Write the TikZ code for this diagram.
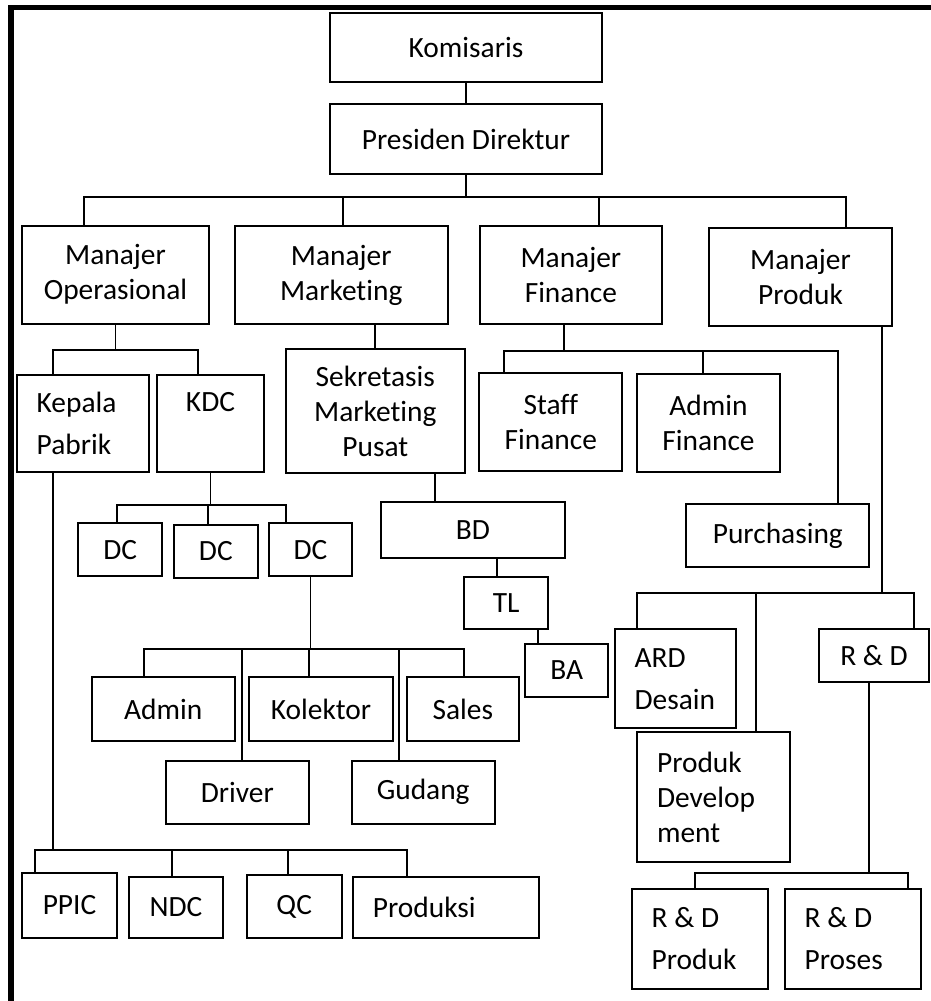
\documentclass[tikz,border=0pt]{standalone}
\usepackage{fontspec}
\setmainfont{Carlito}[Ligatures=NoCommon]
\usetikzlibrary{positioning,calc}
\tikzset{
	box/.style={draw, rectangle, line width=1pt, inner sep=0pt, align=center, font=\fontsize{14.7}{17.5}\selectfont},
	lbox/.style={box, align=flush left, inner xsep=10pt},
	wide/.style={font=\fontsize{14.7}{21}\selectfont},
	link/.style={color=black, line width=0.9pt},
	frame/.style={fill=black}
}
\begin{document}
\begin{tikzpicture}[x=0.5pt,y=-0.5pt]
		\useasboundingbox (0,0) rectangle (931,1001);
		% frame on top and left
		\fill[frame] (8.3,5) rectangle (931,10);
		\fill[frame] (8.3,5) rectangle (14.3,1001);
		
		% top of the chart
		\node[box,minimum width=136pt,minimum height=34.8pt] (kom) at (466,47.5) {Komisaris};
		\node[box,minimum width=136pt,minimum height=34.85pt] (pres) at (466,138.9) {Presiden Direktur};
		
		% managers
		\node[box,minimum width=93.5pt,minimum height=49pt] (mops) at (115.5,274.7) {Manajer\\Operasional};
		\node[box,minimum width=106.5pt,minimum height=49pt] (mmkt) at (341.2,275) {Manajer\\Marketing};
		\node[box,minimum width=91.1pt,minimum height=49pt] (mfin) at (570.9,275) {Manajer\\Finance};
		\node[box,minimum width=91.5pt,minimum height=49pt] (mprod) at (800.5,276.7) {Manajer\\Produk};
		
		% operasional
		\node[lbox,wide,text width=46.3pt,minimum height=48.8pt] (kpab) at (83,423.5) {Kepala\\Pabrik};
		\node[box,wide,minimum width=53.2pt,minimum height=48.8pt] (kdc) at (210.5,423.5) {KDC\\\phantom{KDC}};
		\node[box,minimum width=41.85pt,minimum height=26.35pt] (dc1) at (120.2,549.7) {DC};
		\node[box,minimum width=41.85pt,minimum height=26.2pt] (dc2) at (215.8,551.5) {DC};
		\node[box,minimum width=41.8pt,minimum height=26.35pt] (dc3) at (310.5,549.7) {DC};
		\node[box,minimum width=71.5pt,minimum height=31.7pt] (admin) at (163.2,709) {Admin};
		\node[box,minimum width=71.7pt,minimum height=31.7pt] (kol) at (321,709) {Kolektor};
		\node[box,minimum width=56.15pt,minimum height=31.7pt] (sales) at (462.8,709) {Sales};
		\node[box,minimum width=71.65pt,minimum height=31.65pt] (driver) at (237.3,792.3) {Driver};
		\node[box,minimum width=71.5pt,minimum height=31.65pt] (gud) at (423.2,792.3) {Gudang};
		\node[box,minimum width=47.5pt,minimum height=32.65pt] (ppic) at (69.5,905.3) {PPIC};
		\node[box,minimum width=47.3pt,minimum height=30.5pt] (ndc) at (176,907.5) {NDC};
		\node[box,minimum width=47.5pt,minimum height=31.5pt] (qc) at (294.2,906.5) {QC};
		\node[lbox,text width=72.85pt,minimum height=30.5pt] (prod) at (445.8,907.5) {Produksi};
		
		% marketing
		\node[box,minimum width=89.35pt,minimum height=61.7pt] (smp) at (375.3,411) {Sekretasis\\Marketing\\Pusat};
		\node[box,minimum width=91.7pt,minimum height=28pt] (bd) at (473,529.7) {BD};
		\node[box,minimum width=42.15pt,minimum height=26.15pt] (tl) at (506.2,603.2) {TL};
		\node[box,minimum width=41.65pt,minimum height=26.2pt] (ba) at (566.7,670.5) {BA};
		
		% finance
		\node[box,minimum width=71.5pt,minimum height=49pt] (sfin) at (550.8,421.7) {Staff\\Finance};
		\node[box,minimum width=71.5pt,minimum height=49pt] (afin) at (708.5,423.3) {Admin\\Finance};
		\node[box,minimum width=91.5pt,minimum height=31.2pt] (purch) at (777.8,535.5) {Purchasing};
		
		% produk
		\node[lbox,wide,text width=40.65pt,minimum height=49.35pt] (ard) at (675.3,678.7) {ARD\\Desain};
		\node[box,minimum width=54.7pt,minimum height=26.5pt] (rnd) at (874,655.8) {R \& D};
		\node[lbox,text width=56.65pt,minimum height=64.7pt] (pdev) at (713.7,797) {Produk\\Develop\\ment};
		\node[lbox,wide,text width=48pt,minimum height=50.15pt] (rdprod) at (699.7,938.8) {R \& D\\Produk};
		\node[lbox,wide,text width=48.3pt,minimum height=50.15pt] (rdpros) at (853,938.8) {R \& D\\Proses};
		
		% connectors
		\draw[link] (kom) -- (pres);
		\draw[link] (pres.south) -- ++(0,22.3) -| ([xshift=-15.75pt]mops.north);
		\draw[link] (pres.south) -- ++(0,22.3) -| ([xshift=0.9pt]mmkt.north);
		\draw[link] (pres.south) -- ++(0,22.3) -| ([xshift=13.85pt]mfin.north);
		\draw[link] (pres.south) -- ++(0,22.3) -| ([xshift=22.75pt]mprod.north);
		
		\draw[link] (mops.south) -- ++(0,25.6) -| ([xshift=-15.15pt]kpab.north);
		\draw[link] (mops.south) -- ++(0,25.6) -| ([xshift=-6.1pt]kdc.north);
		\draw[link] (kdc.south) -- ++(0,31.7) -| ([xshift=-1.75pt]dc1.north);
		\draw[link] (kdc.south) -- ++(0,31.7) -| ([xshift=-3.75pt]dc2.north);
		\draw[link] (kdc.south) -- ++(0,31.7) -| ([xshift=-12.4pt]dc3.north);
		\draw[link] (dc3.south) -- ++(0,71.7) -| ([xshift=-9.6pt]admin.north);
		\draw[link] (dc3.south) -- ++(0,71.7) -| ([xshift=2.35pt]driver.north);
		\draw[link] (dc3.south) -- ++(0,71.7) -| ([xshift=-6.15pt]kol.north);
		\draw[link] (dc3.south) -- ++(0,71.7) -| ([xshift=-11.95pt]gud.north);
		\draw[link] (dc3.south) -- ++(0,71.7) -| ([xshift=0.75pt]sales.north);
		\draw[link] ([xshift=-15pt]kpab.south) -- ++(0,377) -| ([xshift=-17.4pt]ppic.north);
		\draw[link] ([xshift=-15pt]kpab.south) -- ++(0,377) -| ([xshift=-2.15pt]ndc.north);
		\draw[link] ([xshift=-15pt]kpab.south) -- ++(0,377) -| ([xshift=-3.25pt]qc.north);
		\draw[link] ([xshift=-15pt]kpab.south) -- ++(0,377) -| ([xshift=-19.4pt]prod.north);
		
		\draw[link] (smp.north) -- (smp.north |- mmkt.south);
		\draw[link] ([xshift=30pt]smp.south) -- ([xshift=-18.85pt]bd.north);
		\draw[link] ([xshift=12pt]bd.south) -- ([xshift=-4.6pt]tl.north);
		\draw[link] ([xshift=16.05pt]tl.south) -- ([xshift=-14.2pt]ba.north);
		
		\draw[link] ([xshift=-3.45pt]mfin.south) -- ++(0,25.6) -| ([xshift=-23.25pt]sfin.north);
		\draw[link] ([xshift=-3.45pt]mfin.south) -- ++(0,25.6) -| ([xshift=-2.9pt]afin.north);
		\draw[link] ([xshift=-3.45pt]mfin.south) -- ++(0,25.6) -| ([xshift=29.95pt]purch.north);
		
		\draw[link] ([xshift=40.9pt]mprod.south) -- ++(0,266) -| ([xshift=-19pt]ard.north);
		\draw[link] ([xshift=40.9pt]mprod.south) -- ++(0,266) -| ([xshift=21pt]pdev.north);
		\draw[link] ([xshift=40.9pt]mprod.south) -- ++(0,266) -| ([xshift=19.85pt]rnd.north);
		\draw[link] ([xshift=-2.5pt]rnd.south) -- ++(0,190) -| ([xshift=-2.35pt]rdprod.north);
		\draw[link] ([xshift=-2.5pt]rnd.south) -- ++(0,190) -| ([xshift=27.65pt]rdpros.north);
		
	\end{tikzpicture}
\end{document}
